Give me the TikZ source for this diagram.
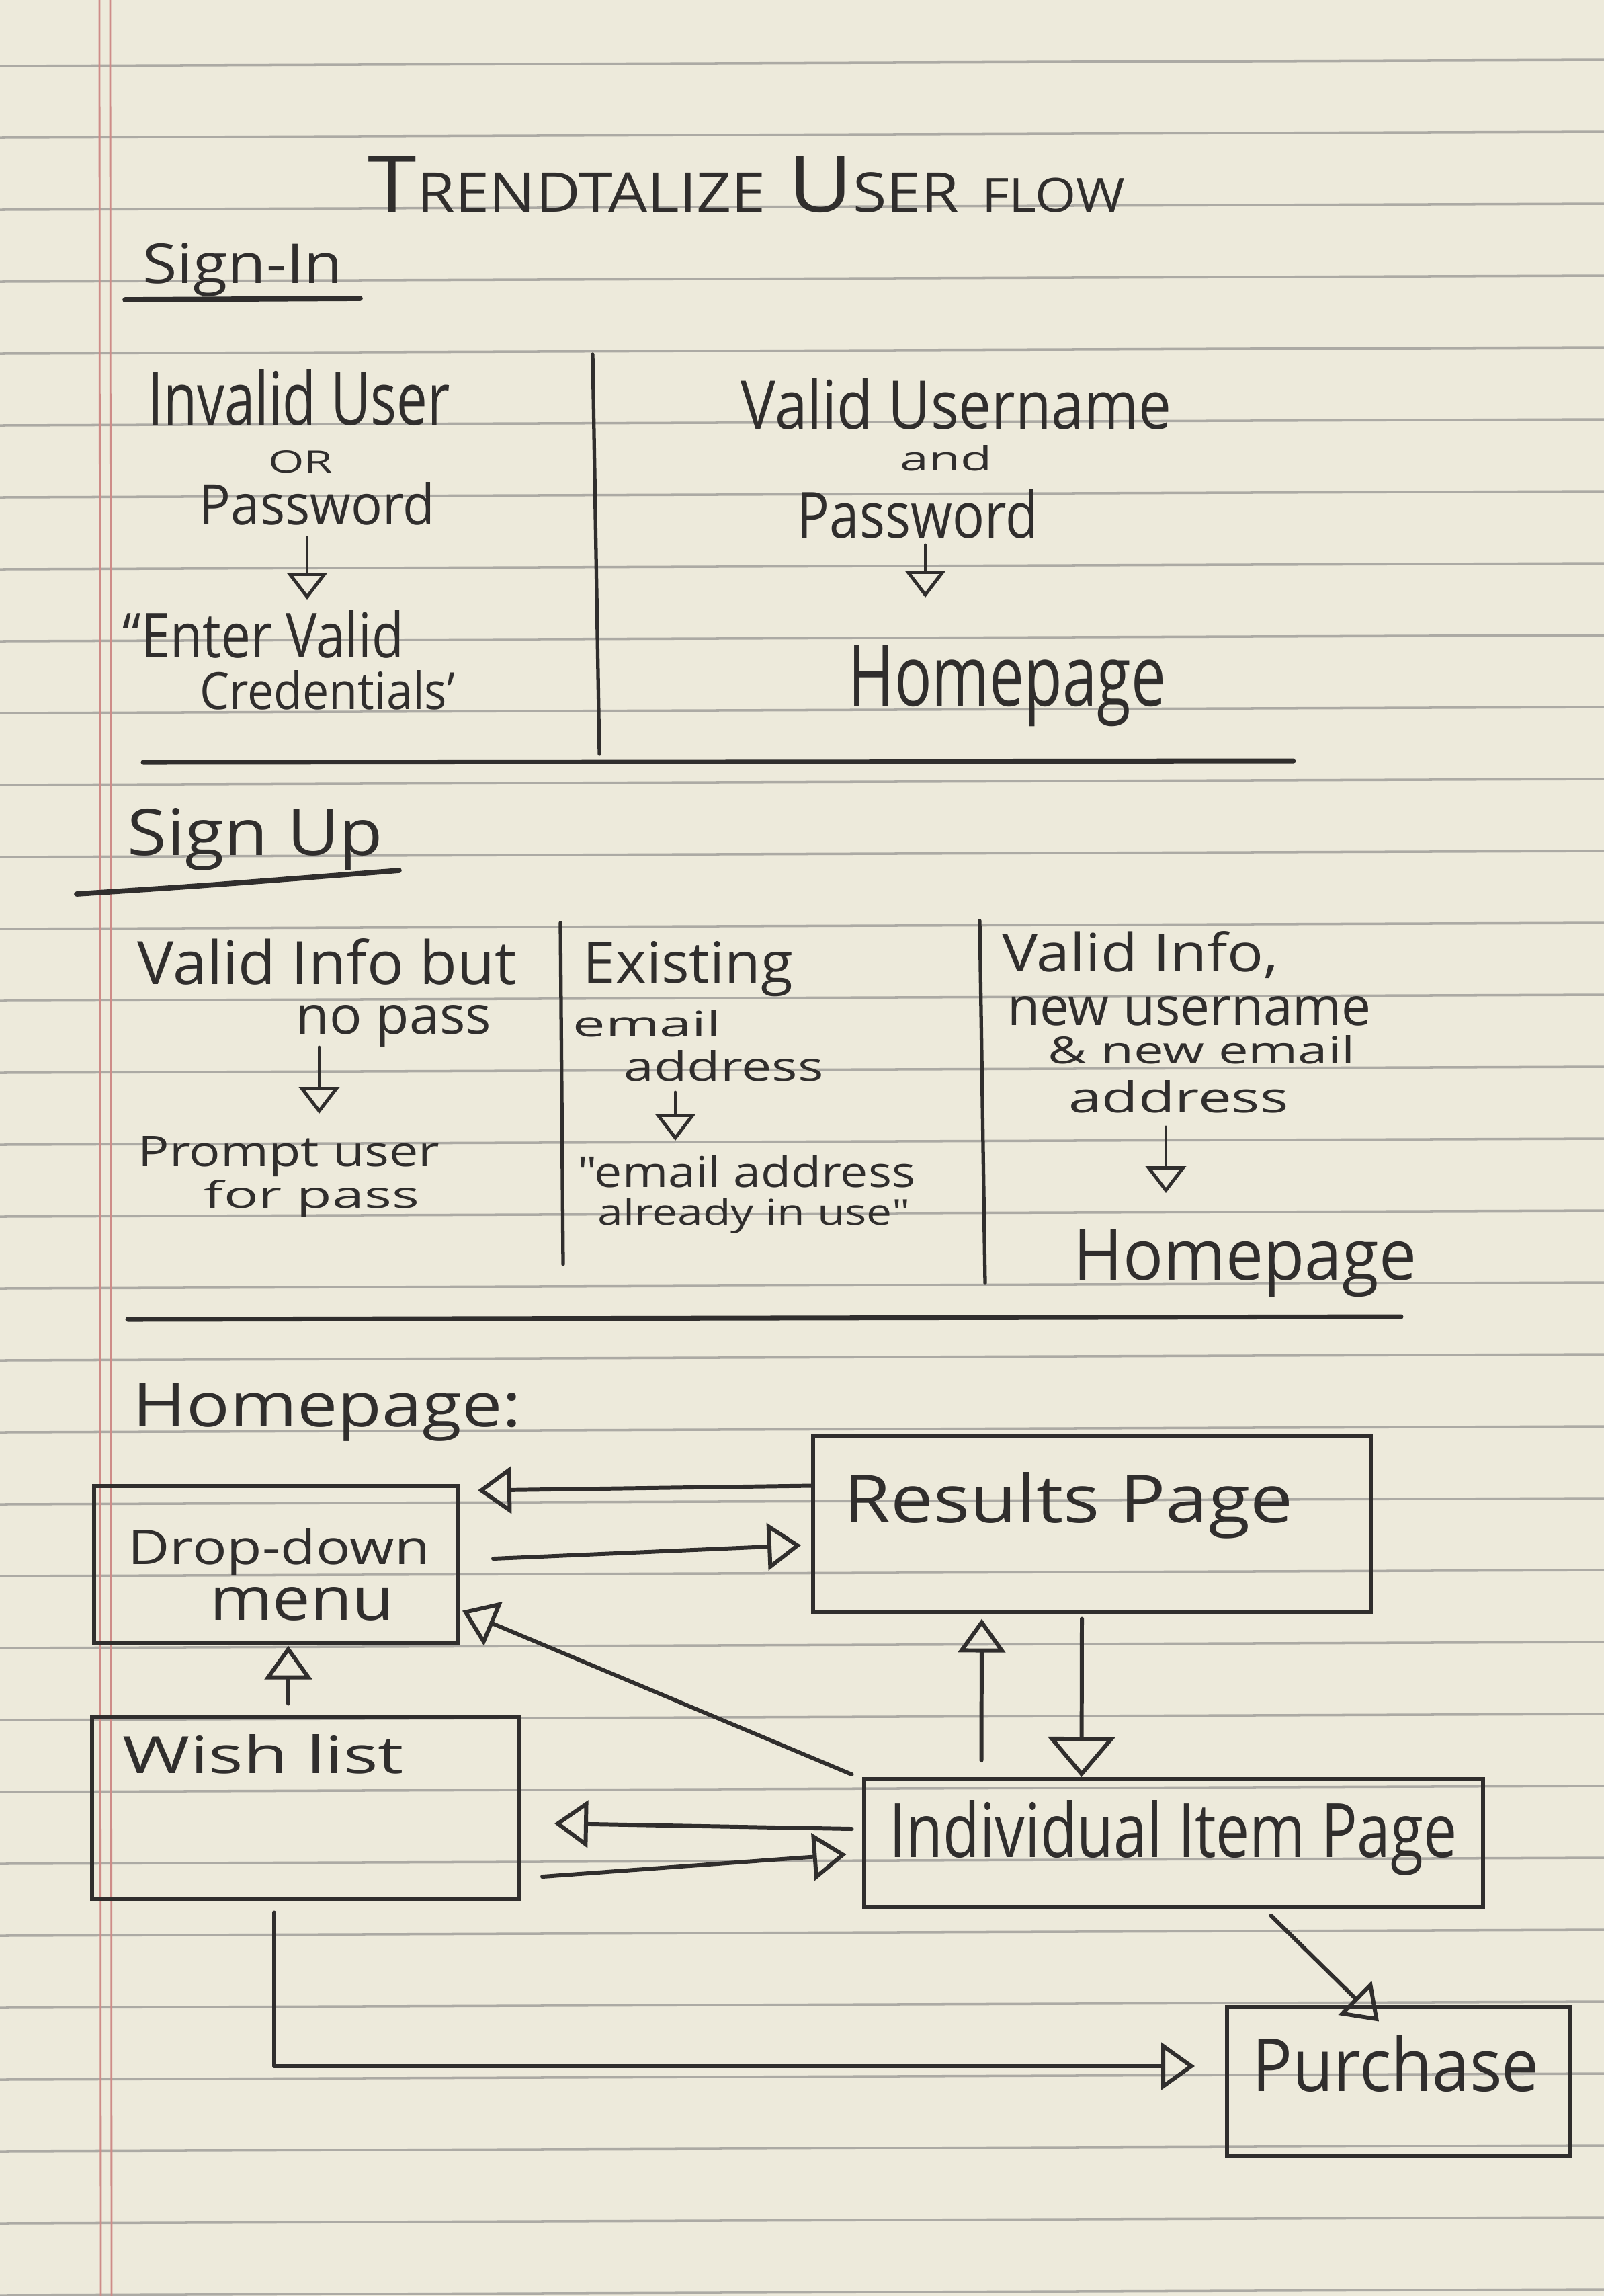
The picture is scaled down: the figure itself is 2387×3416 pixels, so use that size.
\documentclass[tikz,border=0pt]{standalone}
\usepackage{fontspec}
\newfontfamily\hand{Open Sans}
\usetikzlibrary{arrows.meta,calc}
\definecolor{paper}{RGB}{237,234,219}
\definecolor{ruling}{RGB}{172,170,164}
\definecolor{marginred}{RGB}{206,140,136}
\definecolor{ink}{RGB}{48,46,45}
\newcommand\hw[3]{\resizebox{#1}{#2}{\hand #3}}
\begin{document}
\begin{tikzpicture}[x=0.1mm,y=-0.1mm,
 inkline/.style={draw=ink,line width=1.7pt,line cap=round,line join=round},
 arr/.style={inkline,-{Triangle[open,length=5mm,width=7mm]}},
 bigarr/.style={inkline,-{Triangle[open,length=6mm,width=10mm]}},
 sarr/.style={inkline,line width=1.4pt,-{Triangle[open,length=4mm,width=6mm]}},
 txt/.style={inner sep=0pt,text=ink,anchor=base},
 box/.style={draw=ink,line width=1.7pt,inner sep=0pt,rectangle},
 ruleline/.style={draw=ruling,line width=1pt},
]
\useasboundingbox (0,0) rectangle (2387,3416);
\fill[paper] (0,0) rectangle (2387,3416);
% ruled paper
\foreach \k in {-2,...,29} {\draw[ruleline] (0,{312+107*\k}) -- (2387,{303+107*\k});}
\draw[marginred,line width=0.8pt] (148,0) -- (150,3416);
\draw[marginred,line width=0.8pt] (164,0) -- (166,3416);

% title
\node[txt] (title) at (1111,315) {\hw{112.6mm}{8.3mm}{T{\fontsize{7}{7}\selectfont RENDTALIZE} U{\fontsize{7}{7}\selectfont SER} {\fontsize{6}{6}\selectfont FLOW}}};

% ---------- Sign-In
\node[txt] (signin) at (361,421) {\hw{29.7mm}{6mm}{Sign-In}};
\draw[inkline,line width=2.2pt] (186,446) -- (536,444);
\draw[inkline,line width=1.5pt] (882,527) -- (892,1122);

\node[txt] (inv1) at (445,632) {\hw{44.9mm}{8.3mm}{Invalid User}};
\node[txt] (inv2) at (447,703) {\hw{9.6mm}{3.3mm}{OR}};
\node[txt] (inv3) at (472,780) {\hw{35mm}{6.3mm}{Password}};
\node[txt] (inv4) at (392,978) {\hw{41.8mm}{7mm}{“Enter Valid}};
\node[txt] (inv5) at (487,1055) {\hw{38mm}{5.8mm}{Credentials’}};
\draw[sarr] ($(inv3.base)+(-15,20)$) -- ($(inv4.base)+(65,-86)$);

\node[txt] (val1) at (1423,638) {\hw{64mm}{7.6mm}{Valid Username}};
\node[txt] (val2) at (1408,700) {\hw{13.7mm}{3.8mm}{and}};
\node[txt] (val3) at (1366,800) {\hw{35.8mm}{7.2mm}{Password}};
\node[txt] (val4) at (1499,1050) {\hw{47.2mm}{9mm}{Homepage}};
\draw[sarr] ($(val3.base)+(11,11)$) -- ($(val4.base)+(-122,-161)$);

\draw[inkline,line width=2pt] (213,1134) -- (1925,1132);

% ---------- Sign Up
\node[txt] (signup) at (380,1272) {\hw{38mm}{7mm}{Sign Up}};
\draw[inkline,line width=2.2pt] (114,1330) .. controls (300,1318) .. (594,1295);
\draw[inkline,line width=1.5pt] (834,1373) -- (838,1881);
\draw[inkline,line width=1.5pt] (1458,1370) -- (1466,1909);

\node[txt] (su1) at (487,1464) {\hw{56.4mm}{6.8mm}{Valid Info but}};
\node[txt] (su2) at (586,1538) {\hw{29mm}{4.3mm}{no pass}};
\node[txt] (su3) at (430,1735) {\hw{44.9mm}{4.5mm}{Prompt user}};
\node[txt] (su4) at (464,1797) {\hw{32mm}{4.2mm}{for pass}};
\draw[sarr] ($(su2.base)+(-111,20)$) -- ($(su3.base)+(45,-78)$);

\node[txt] (ex1) at (1024,1462) {\hw{31.2mm}{6.2mm}{Existing}};
\node[txt] (ex2) at (963,1542) {\hw{22.1mm}{4mm}{email}};
\node[txt] (ex3) at (1077,1608) {\hw{29.7mm}{4.6mm}{address}};
\node[txt] (ex4) at (1111,1766) {\hw{50.2mm}{4.8mm}{"email address}};
\node[txt] (ex5) at (1122,1822) {\hw{46.5mm}{4mm}{already in use"}};
\draw[sarr] ($(ex3.base)+(-72,17)$) -- ($(ex4.base)+(-106,-69)$);

\node[txt] (vi1) at (1697,1445) {\hw{41.1mm}{6mm}{Valid Info,}};
\node[txt] (vi2) at (1770,1525) {\hw{54.1mm}{4.3mm}{new username}};
\node[txt] (vi3) at (1788,1582) {\hw{45.7mm}{4.2mm}{\& new email}};
\node[txt] (vi4) at (1754,1655) {\hw{32.7mm}{4.8mm}{address}};
\node[txt] (vi5) at (1853,1904) {\hw{51mm}{7.5mm}{Homepage}};
\draw[sarr] ($(vi4.base)+(-19,22)$) -- ($(vi5.base)+(-118,-129)$);

\draw[inkline,line width=2pt] (190,1963) -- (2085,1959);

% ---------- Homepage flow
\node[txt] (home) at (487,2122) {\hw{57.8mm}{6.5mm}{Homepage:}};

\node[box,minimum width=83mm,minimum height=26.1mm] (res) at (1625,2267) {};
\node[box,minimum width=54.2mm,minimum height=23.3mm] (dd) at (411,2327) {};
\node[box,minimum width=63.6mm,minimum height=27.1mm] (wl) at (455,2690) {};
\node[box,minimum width=92.1mm,minimum height=19mm] (iip) at (1746,2742) {};
\node[box,minimum width=51mm,minimum height=22.1mm] (pur) at (2081,3096) {};

\node[txt] (resT) at (1590,2265) {\hw{66.9mm}{7.5mm}{Results Page}};
\node[txt] (ddT1) at (415,2327) {\hw{44.9mm}{5.4mm}{Drop-down}};
\node[txt] (ddT2) at (449,2410) {\hw{27.4mm}{4.9mm}{menu}};
\node[txt] (wlT) at (392,2638) {\hw{41.8mm}{5.8mm}{Wish list}};
\node[txt] (iipT) at (1746,2763) {\hw{84.5mm}{8.5mm}{Individual Item Page}};
\node[txt] (purT) at (2077,3111) {\hw{42.7mm}{8.3mm}{Purchase}};

% connectors
\draw[arr] ($(res.north west)+(0,77)$) -- ($(dd.north east)+(26,10)$);
\draw[arr] ($(dd.east)+(49,-8)$) -- ($(res.west)+(-15,32)$);
\draw[arr] ($(iip.north west)+(-15,-4)$) -- ($(dd.south east)+(3,-50)$);
\draw[arr] ($(wl.north)+(-26,-17)$) -- ($(dd.south)+(18,2)$);
\draw[arr] ($(iip.north west)+(178,-25)$) -- ($(res.south west)+(254,8)$);
\draw[bigarr] ($(res.south west)+(403,8)$) -- ($(iip.north west)+(327,0)$);
\draw[arr] ($(iip.west)+(-15,-21)$) -- ($(wl.east)+(49,23)$);
\draw[arr] ($(wl.east)+(31,102)$) -- ($(iip.west)+(-23,17)$);
\draw[arr] ($(iip.south west)+(609,10)$) -- ($(pur.north west)+(229,25)$);
\draw[arr] ($(wl.south west)+(274,17)$) |- ($(pur.west)+(-45,-22)$);
\end{tikzpicture}
\end{document}
